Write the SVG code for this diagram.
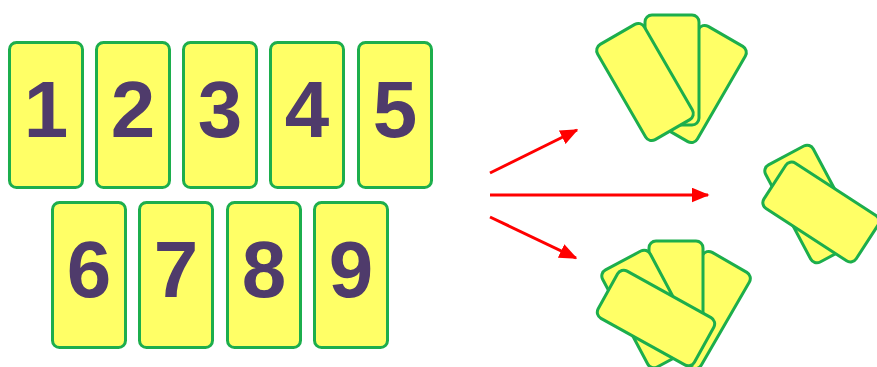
<svg xmlns="http://www.w3.org/2000/svg" width="877" height="367" viewBox="0 0 877 367">
<defs>
<style>
.card{fill:#ffff66;stroke:#1cae4c;stroke-width:3}
.num{font-family:"Liberation Sans",Arial,sans-serif;font-weight:bold;font-size:80px;fill:#4f3b6b;text-anchor:middle}
.arr{stroke:#ff0000;stroke-width:3;fill:none}
</style>
<marker id="ah" markerWidth="6" markerHeight="5" refX="5.5" refY="2.5" orient="auto" markerUnits="strokeWidth">
<path d="M0,0 L6,2.5 L0,5 Z" fill="#ff0000"/>
</marker>
</defs>
<g id="card1"><rect class="card" x="9.5" y="42.5" width="73" height="145" rx="7"/><text class="num" x="46" y="137">1</text></g>
<g id="card2"><rect class="card" x="96.5" y="42.5" width="73" height="145" rx="7"/><text class="num" x="133" y="137">2</text></g>
<g id="card3"><rect class="card" x="183.5" y="42.5" width="73" height="145" rx="7"/><text class="num" x="220" y="137">3</text></g>
<g id="card4"><rect class="card" x="270.5" y="42.5" width="73" height="145" rx="7"/><text class="num" x="307" y="137">4</text></g>
<g id="card5"><rect class="card" x="358.5" y="42.5" width="73" height="145" rx="7"/><text class="num" x="395" y="137">5</text></g>
<g id="card6"><rect class="card" x="52.5" y="202.5" width="73" height="145" rx="7"/><text class="num" x="89" y="297">6</text></g>
<g id="card7"><rect class="card" x="139.5" y="202.5" width="73" height="145" rx="7"/><text class="num" x="176" y="297">7</text></g>
<g id="card8"><rect class="card" x="227.5" y="202.5" width="73" height="145" rx="7"/><text class="num" x="264" y="297">8</text></g>
<g id="card9"><rect class="card" x="314.5" y="202.5" width="73" height="145" rx="7"/><text class="num" x="351" y="297">9</text></g>
<g id="connectors">
<line class="arr" x1="490" y1="173" x2="577" y2="130" marker-end="url(#ah)"/>
<line class="arr" x1="490" y1="195" x2="708" y2="195" marker-end="url(#ah)"/>
<line class="arr" x1="490" y1="217" x2="576" y2="258" marker-end="url(#ah)"/>
</g>
<g id="fan-top">
<rect class="card" x="-27" y="-55" width="54" height="110" rx="7" transform="translate(698,84) rotate(30)"/>
<rect class="card" x="-27" y="-55" width="54" height="110" rx="7" transform="translate(672,70)"/>
<rect class="card" x="-27" y="-55" width="54" height="110" rx="7" transform="translate(645,82) rotate(-30)"/>
</g>
<g id="pair-right">
<rect class="card" x="-27" y="-55" width="54" height="110" rx="7" transform="translate(812,204) rotate(-28)"/>
<rect class="card" x="-55" y="-27" width="110" height="54" rx="7" transform="translate(821,212) rotate(33)"/>
</g>
<g id="fan-bottom">
<rect class="card" x="-27" y="-55" width="54" height="110" rx="7" transform="translate(702,310) rotate(30)"/>
<rect class="card" x="-27" y="-55" width="54" height="110" rx="7" transform="translate(676,296)"/>
<rect class="card" x="-27" y="-55" width="54" height="110" rx="7" transform="translate(649,309) rotate(-28)"/>
<rect class="card" x="-55" y="-27" width="110" height="54" rx="7" transform="translate(656,318) rotate(29)"/>
</g>
</svg>
